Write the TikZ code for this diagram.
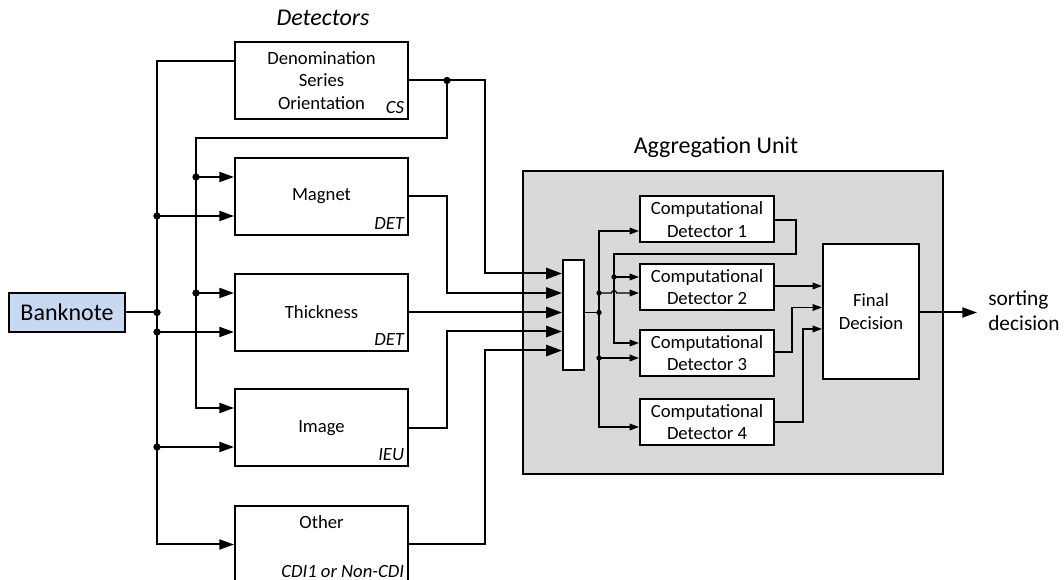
\documentclass[tikz,border=0pt]{standalone}
\usepackage{fontspec}
\setmainfont{Carlito}
\usetikzlibrary{arrows.meta}
\definecolor{bnblue}{HTML}{C6D9F1}
\definecolor{aggfill}{HTML}{D9D9D9}
\begin{document}
\begin{tikzpicture}[x=0.75pt,y=-0.75pt,
  font=\fontsize{14}{17}\selectfont,
  det/.style={draw, line width=1.5pt, fill=white, minimum width=129.75pt, minimum height=57.75pt, inner sep=0pt, align=center},
  cd/.style={draw, line width=1.5pt, fill=white, minimum width=100.5pt, minimum height=34.5pt, inner sep=0pt, align=center},
  tag/.style={font=\fontsize{14}{17}\selectfont\itshape, anchor=base east, inner sep=0pt},
  wire/.style={line width=1.5pt},
  iwire/.style={line width=0.9pt},
  oarr/.style={wire, -{Triangle[length=11pt,width=7.5pt]}},
  marr/.style={wire, -{Triangle[length=12pt,width=8.5pt]}},
  iarr/.style={iwire, -{Triangle[length=7pt,width=5pt]}},
  odot/.style={circle, fill, inner sep=0pt, minimum size=5.5pt},
  idot/.style={circle, fill, inner sep=0pt, minimum size=4pt},
  title/.style={font=\fontsize{18}{22}\selectfont, inner sep=0pt},
]
\useasboundingbox (0,0) rectangle (1064,580);
\clip (0,0) rectangle (1064,580);

% ---- titles
\node[title, font=\fontsize{18}{22}\selectfont\itshape] (dett) at (323,18) {Detectors};

% ---- aggregation unit
\node[draw, line width=1.5pt, fill=aggfill, minimum width=315pt, minimum height=227.25pt, inner sep=0pt] (agg) at (733,322.5) {};
\node[title] (aggt) at (716,147) {Aggregation Unit};

% ---- banknote
\node[draw, line width=1.5pt, fill=bnblue, minimum width=87pt, minimum height=29.25pt, inner sep=0pt, font=\fontsize{18}{22}\selectfont] (bn) at (67,312.5) {Banknote};

% ---- detectors
\node[det] (cs) at (321.5,80.5) {Denomination\\Series\\Orientation};
\node[tag] (cst) at ([xshift=-3.5pt,yshift=5pt]cs.south east) {CS};
\node[det] (mag) at (321.5,196.5) {Magnet};
\node[tag] (magt) at ([xshift=-3.5pt,yshift=5pt]mag.south east) {DET};
\node[det] (thk) at (321.5,312.5) {Thickness};
\node[tag] (thkt) at ([xshift=-3.5pt,yshift=5pt]thk.south east) {DET};
\node[det] (img) at (321.5,428) {Image};
\node[tag] (imgt) at ([xshift=-3.5pt,yshift=5pt]img.south east) {IEU};
\node[det] (oth) at (321.5,544.5) {};
\node[inner sep=0pt] (otht) at (321.5,522) {Other};
\node[tag] (othl) at ([xshift=-3.5pt,yshift=5pt]oth.south east) {CDI1 or Non-CDI};

% ---- aggregation internals
\node[draw, line width=1.5pt, fill=white, minimum width=15.75pt, minimum height=82.5pt, inner sep=0pt] (mux) at (573.5,315) {};
\node[cd] (cd1) at (707,219.5) {Computational\\Detector 1};
\node[cd] (cd2) at (707,287) {Computational\\Detector 2};
\node[cd] (cd3) at (707,353) {Computational\\Detector 3};
\node[cd] (cd4) at (707,422) {Computational\\Detector 4};
\node[draw, line width=1.5pt, fill=white, minimum width=72pt, minimum height=101.25pt, inner sep=0pt, align=center] (fd) at (871,311.5) {Final\\Decision};
\node[anchor=west, align=left, inner sep=0pt, font=\fontsize{16}{19}\selectfont] (sd) at (988,311) {sorting\\decision};

% ---- banknote bus (x=157)
\coordinate (b1) at (157,312.5);
\draw[wire] (bn.east) -- (b1);
\draw[oarr] (cs.west |- 0,61) -| (157,544.5) -- (oth.west);
\draw[oarr] (157,216) -- (mag.west |- 0,216);
\draw[oarr] (157,332) -- (thk.west |- 0,332);
\draw[oarr] (157,447) -- (img.west |- 0,447);
\foreach \yy in {216,312.5,332,447} \node[odot] at (157,\yy) {};

% ---- CS feedback bus (x=196)
\coordinate (j1) at (447,80.5);
\draw[oarr] (j1) |- (196,138) |- (img.west |- 0,408);
\draw[oarr] (196,177) -- (mag.west |- 0,177);
\draw[oarr] (196,293) -- (thk.west |- 0,293);
\node[odot] at (j1) {};
\node[odot] at (196,177) {};
\node[odot] at (196,293) {};

% ---- detector outputs to mux
\draw[marr] (cs.east) -| (485,273.5) -- (mux.west |- 0,273.5);
\draw[marr] (mag.east) -| (447,293) -- (mux.west |- 0,293);
\draw[marr] (thk.east) -- (mux.west |- 0,312.5);
\draw[marr] (img.east) -| (447,331.5) -- (mux.west |- 0,331.5);
\draw[marr] (oth.east |- 0,544) -| (485,350.5) -- (mux.west |- 0,350.5);

% ---- internal wiring
\coordinate (m1) at (599,312.5);
\draw[iwire] (mux.east |- 0,312.5) -- (m1);
\draw[iarr] (m1) |- (cd1.west |- 0,231);
\draw[iarr] (m1) |- (cd4.west |- 0,427);
\draw[iarr] (599,293) -- (611.5,293) arc[start angle=180,end angle=0,radius=1.9pt] -- (cd2.west |- 0,293);
\draw[iarr] (599,358) -- (cd3.west |- 0,358);
\foreach \yy in {293,312.5,358} \node[idot] at (599,\yy) {};

\draw[iarr] (cd1.east |- 0,220) -| (796,254) -| (614,343) -- (cd3.west |- 0,343);
\draw[iarr] (614,277) -- (cd2.west |- 0,277);
\node[idot] at (614,277) {};

\draw[iarr] (cd2.east |- 0,286) -- (fd.west |- 0,286);
\draw[iarr] (cd3.east |- 0,352) -| (792,307.5) -- (fd.west |- 0,307.5);
\draw[iarr] (cd4.east) -| (803,329) -- (fd.west |- 0,329);

% ---- output
\coordinate (out) at (977,312.5);
\draw[oarr] (fd.east |- 0,312.5) -- (out);
\end{tikzpicture}
\end{document}
